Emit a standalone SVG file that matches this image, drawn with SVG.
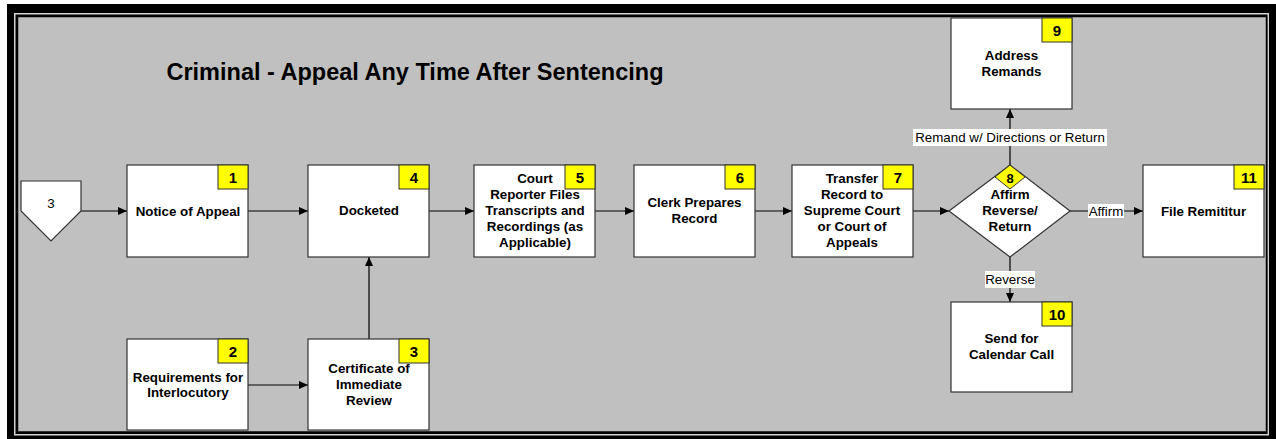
<svg xmlns="http://www.w3.org/2000/svg" width="1276" height="439" viewBox="0 0 1276 439">
<style>
.box{fill:#fff;stroke:#333;stroke-width:1.2}
.badge{fill:#ffff00;stroke:#333;stroke-width:1}
.t{font-family:"Liberation Sans",Arial,sans-serif;font-size:13.33px;font-weight:bold;fill:#000;text-anchor:middle}
.n{font-family:"Liberation Sans",Arial,sans-serif;font-size:15px;font-weight:bold;fill:#000;text-anchor:middle}
.lb{font-family:"Liberation Sans",Arial,sans-serif;font-size:13.33px;fill:#000;text-anchor:middle}
.ln{stroke:#000;stroke-width:1.2;fill:none;marker-end:url(#ah)}
</style>
<defs>
<marker id="ah" markerWidth="10" markerHeight="10" refX="9" refY="4" orient="auto" markerUnits="userSpaceOnUse">
<path d="M0,0 L9,4 L0,8 Z" fill="#000"/>
</marker>
</defs>
<rect x="0" y="0" width="1276" height="439" fill="#fff"/>
<rect x="7" y="4" width="1269" height="435" fill="#000"/>
<rect x="14.75" y="13.75" width="1253.5" height="421" fill="none" stroke="#d4d4d4" stroke-width="1.5"/>
<rect x="17.5" y="16.5" width="1249" height="415.5" fill="#c0c0c0" stroke="#000" stroke-width="1.5"/>
<text x="415" y="80" font-family="'Liberation Sans',Arial,sans-serif" font-size="23.5" font-weight="bold" text-anchor="middle">Criminal - Appeal Any Time After Sentencing</text>
<g id="connectors">
<line class="ln" x1="81" y1="211" x2="127" y2="211"/>
<line class="ln" x1="248" y1="211" x2="308" y2="211"/>
<line class="ln" x1="429" y1="211" x2="474" y2="211"/>
<line class="ln" x1="595" y1="211" x2="634" y2="211"/>
<line class="ln" x1="755" y1="211" x2="792" y2="211"/>
<line class="ln" x1="913" y1="211" x2="949" y2="211"/>
<line class="ln" x1="248" y1="385" x2="308" y2="385"/>
<line class="ln" x1="369" y1="339" x2="369" y2="257"/>
<line class="ln" x1="1070" y1="211" x2="1143" y2="211"/>
<line class="ln" x1="1010" y1="165" x2="1010" y2="109"/>
<line class="ln" x1="1010" y1="257" x2="1010" y2="302"/>
<rect x="1088" y="204" width="36" height="14" fill="#fff"/>
<text class="lb" x="1106" y="216">Affirm</text>
<rect x="913" y="129" width="194" height="17" fill="#fff"/>
<text class="lb" x="1010" y="142">Remand w/ Directions or Return</text>
<rect x="985" y="271" width="50" height="17" fill="#fff"/>
<text class="lb" x="1010" y="284">Reverse</text>
</g>
<g id="offpage3">
<path d="M21,181 L81,181 L81,211 L51,241 L21,211 Z" class="box"/>
<text x="51" y="208" font-family="'Liberation Sans',Arial,sans-serif" font-size="13.33" text-anchor="middle">3</text>
</g>
<g id="node1">
<rect class="box" x="127" y="165" width="121" height="92"/>
<rect class="badge" x="218" y="165" width="30" height="24"/>
<text class="n" x="233" y="182.5">1</text>
<text class="t" x="188" y="216">Notice of Appeal</text>
</g>
<g id="node2">
<rect class="box" x="127" y="339" width="121" height="91"/>
<rect class="badge" x="218" y="339" width="30" height="24"/>
<text class="n" x="233" y="356.5">2</text>
<text class="t" x="188" y="381.5">Requirements for</text>
<text class="t" x="188" y="397">Interlocutory</text>
</g>
<g id="node3">
<rect class="box" x="308" y="339" width="121" height="91"/>
<rect class="badge" x="399" y="339" width="30" height="24"/>
<text class="n" x="414" y="356.5">3</text>
<text class="t" x="369" y="373">Certificate of</text>
<text class="t" x="369" y="389">Immediate</text>
<text class="t" x="369" y="405">Review</text>
</g>
<g id="node4">
<rect class="box" x="308" y="165" width="121" height="92"/>
<rect class="badge" x="399" y="165" width="30" height="24"/>
<text class="n" x="414" y="182.5">4</text>
<text class="t" x="369" y="215">Docketed</text>
</g>
<g id="node5">
<rect class="box" x="474" y="165" width="121" height="92"/>
<rect class="badge" x="565" y="165" width="30" height="24"/>
<text class="n" x="580" y="182.5">5</text>
<text class="t" x="535" y="183">Court</text>
<text class="t" x="535" y="199">Reporter Files</text>
<text class="t" x="535" y="215">Transcripts and</text>
<text class="t" x="535" y="231">Recordings (as</text>
<text class="t" x="535" y="247">Applicable)</text>
</g>
<g id="node6">
<rect class="box" x="634" y="165" width="121" height="92"/>
<rect class="badge" x="725" y="165" width="30" height="24"/>
<text class="n" x="740" y="182.5">6</text>
<text class="t" x="694.5" y="207">Clerk Prepares</text>
<text class="t" x="694.5" y="223">Record</text>
</g>
<g id="node7">
<rect class="box" x="792" y="165" width="121" height="92"/>
<rect class="badge" x="883" y="165" width="30" height="24"/>
<text class="n" x="898" y="182.5">7</text>
<text class="t" x="852" y="183">Transfer</text>
<text class="t" x="852" y="199">Record to</text>
<text class="t" x="852" y="215">Supreme Court</text>
<text class="t" x="852" y="231">or Court of</text>
<text class="t" x="852" y="247">Appeals</text>
</g>
<g id="node8">
<path class="box" d="M1010,165 L1070,211 L1010,257 L949,211 Z"/>
<path class="badge" d="M1010,165 L1025,177 L1010,189 L995,177 Z"/>
<text class="n" x="1010" y="182.5" style="font-size:13px">8</text>
<text class="t" x="1010" y="199">Affirm</text>
<text class="t" x="1010" y="215">Reverse/</text>
<text class="t" x="1010" y="231">Return</text>
</g>
<g id="node9">
<rect class="box" x="951" y="18" width="121" height="91"/>
<rect class="badge" x="1042" y="18" width="30" height="24"/>
<text class="n" x="1057" y="35.5">9</text>
<text class="t" x="1011.5" y="60">Address</text>
<text class="t" x="1011.5" y="76">Remands</text>
</g>
<g id="node10">
<rect class="box" x="951" y="302" width="121" height="90"/>
<rect class="badge" x="1042" y="302" width="30" height="24"/>
<text class="n" x="1057" y="319.5">10</text>
<text class="t" x="1011.5" y="343">Send for</text>
<text class="t" x="1011.5" y="359">Calendar Call</text>
</g>
<g id="node11">
<rect class="box" x="1143" y="165" width="121" height="92"/>
<rect class="badge" x="1234" y="165" width="30" height="24"/>
<text class="n" x="1249" y="182.5">11</text>
<text class="t" x="1203.5" y="216">File Remititur</text>
</g>
</svg>
